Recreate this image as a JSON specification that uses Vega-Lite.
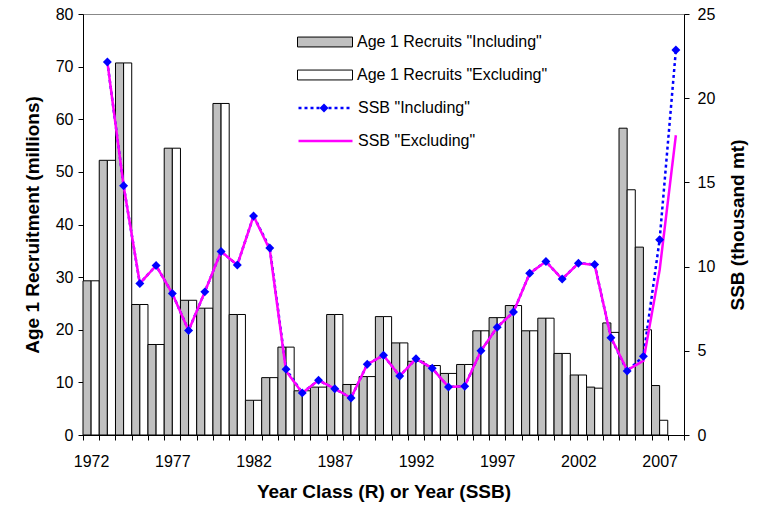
{
  "$schema": "https://vega.github.io/schema/vega-lite/v6.json",
  "width": 601,
  "height": 421,
  "autosize": {"type": "none"},
  "padding": {"left": 83, "top": 14, "right": 73, "bottom": 73},
  "background": "white",
  "config": {
    "font": "Liberation Sans",
    "view": {"stroke": "#888888", "strokeWidth": 1},
    "axis": {
      "grid": false, "domainColor": "#000000", "tickColor": "#000000",
      "labelColor": "#000000", "titleColor": "#000000",
      "labelFontSize": 16, "titleFontSize": 19, "titleFontWeight": "bold",
      "tickSize": 5, "domainWidth": 1, "tickWidth": 1
    },
    "legend": {"labelFontSize": 16, "labelColor": "#000000", "labelLimit": 400}
  },
  "datasets": {
    "rec": [
      {"year": 1972, "series": "Age 1 Recruits \"Including\"", "R": 29.3}, {"year": 1972, "series": "Age 1 Recruits \"Excluding\"", "R": 29.3},
      {"year": 1973, "series": "Age 1 Recruits \"Including\"", "R": 52.2}, {"year": 1973, "series": "Age 1 Recruits \"Excluding\"", "R": 52.2},
      {"year": 1974, "series": "Age 1 Recruits \"Including\"", "R": 70.7}, {"year": 1974, "series": "Age 1 Recruits \"Excluding\"", "R": 70.7},
      {"year": 1975, "series": "Age 1 Recruits \"Including\"", "R": 24.8}, {"year": 1975, "series": "Age 1 Recruits \"Excluding\"", "R": 24.8},
      {"year": 1976, "series": "Age 1 Recruits \"Including\"", "R": 17.2}, {"year": 1976, "series": "Age 1 Recruits \"Excluding\"", "R": 17.2},
      {"year": 1977, "series": "Age 1 Recruits \"Including\"", "R": 54.5}, {"year": 1977, "series": "Age 1 Recruits \"Excluding\"", "R": 54.5},
      {"year": 1978, "series": "Age 1 Recruits \"Including\"", "R": 25.6}, {"year": 1978, "series": "Age 1 Recruits \"Excluding\"", "R": 25.6},
      {"year": 1979, "series": "Age 1 Recruits \"Including\"", "R": 24.1}, {"year": 1979, "series": "Age 1 Recruits \"Excluding\"", "R": 24.1},
      {"year": 1980, "series": "Age 1 Recruits \"Including\"", "R": 63.0}, {"year": 1980, "series": "Age 1 Recruits \"Excluding\"", "R": 63.0},
      {"year": 1981, "series": "Age 1 Recruits \"Including\"", "R": 22.9}, {"year": 1981, "series": "Age 1 Recruits \"Excluding\"", "R": 22.9},
      {"year": 1982, "series": "Age 1 Recruits \"Including\"", "R": 6.6}, {"year": 1982, "series": "Age 1 Recruits \"Excluding\"", "R": 6.6},
      {"year": 1983, "series": "Age 1 Recruits \"Including\"", "R": 10.9}, {"year": 1983, "series": "Age 1 Recruits \"Excluding\"", "R": 10.9},
      {"year": 1984, "series": "Age 1 Recruits \"Including\"", "R": 16.7}, {"year": 1984, "series": "Age 1 Recruits \"Excluding\"", "R": 16.7},
      {"year": 1985, "series": "Age 1 Recruits \"Including\"", "R": 8.4}, {"year": 1985, "series": "Age 1 Recruits \"Excluding\"", "R": 8.4},
      {"year": 1986, "series": "Age 1 Recruits \"Including\"", "R": 9.1}, {"year": 1986, "series": "Age 1 Recruits \"Excluding\"", "R": 9.1},
      {"year": 1987, "series": "Age 1 Recruits \"Including\"", "R": 22.9}, {"year": 1987, "series": "Age 1 Recruits \"Excluding\"", "R": 22.9},
      {"year": 1988, "series": "Age 1 Recruits \"Including\"", "R": 9.6}, {"year": 1988, "series": "Age 1 Recruits \"Excluding\"", "R": 9.6},
      {"year": 1989, "series": "Age 1 Recruits \"Including\"", "R": 11.1}, {"year": 1989, "series": "Age 1 Recruits \"Excluding\"", "R": 11.1},
      {"year": 1990, "series": "Age 1 Recruits \"Including\"", "R": 22.5}, {"year": 1990, "series": "Age 1 Recruits \"Excluding\"", "R": 22.5},
      {"year": 1991, "series": "Age 1 Recruits \"Including\"", "R": 17.5}, {"year": 1991, "series": "Age 1 Recruits \"Excluding\"", "R": 17.5},
      {"year": 1992, "series": "Age 1 Recruits \"Including\"", "R": 14.0}, {"year": 1992, "series": "Age 1 Recruits \"Excluding\"", "R": 14.0},
      {"year": 1993, "series": "Age 1 Recruits \"Including\"", "R": 13.2}, {"year": 1993, "series": "Age 1 Recruits \"Excluding\"", "R": 13.2},
      {"year": 1994, "series": "Age 1 Recruits \"Including\"", "R": 11.7}, {"year": 1994, "series": "Age 1 Recruits \"Excluding\"", "R": 11.7},
      {"year": 1995, "series": "Age 1 Recruits \"Including\"", "R": 13.4}, {"year": 1995, "series": "Age 1 Recruits \"Excluding\"", "R": 13.4},
      {"year": 1996, "series": "Age 1 Recruits \"Including\"", "R": 19.8}, {"year": 1996, "series": "Age 1 Recruits \"Excluding\"", "R": 19.8},
      {"year": 1997, "series": "Age 1 Recruits \"Including\"", "R": 22.3}, {"year": 1997, "series": "Age 1 Recruits \"Excluding\"", "R": 22.3},
      {"year": 1998, "series": "Age 1 Recruits \"Including\"", "R": 24.6}, {"year": 1998, "series": "Age 1 Recruits \"Excluding\"", "R": 24.6},
      {"year": 1999, "series": "Age 1 Recruits \"Including\"", "R": 19.8}, {"year": 1999, "series": "Age 1 Recruits \"Excluding\"", "R": 19.8},
      {"year": 2000, "series": "Age 1 Recruits \"Including\"", "R": 22.2}, {"year": 2000, "series": "Age 1 Recruits \"Excluding\"", "R": 22.2},
      {"year": 2001, "series": "Age 1 Recruits \"Including\"", "R": 15.5}, {"year": 2001, "series": "Age 1 Recruits \"Excluding\"", "R": 15.5},
      {"year": 2002, "series": "Age 1 Recruits \"Including\"", "R": 11.4}, {"year": 2002, "series": "Age 1 Recruits \"Excluding\"", "R": 11.4},
      {"year": 2003, "series": "Age 1 Recruits \"Including\"", "R": 9.1}, {"year": 2003, "series": "Age 1 Recruits \"Excluding\"", "R": 8.9},
      {"year": 2004, "series": "Age 1 Recruits \"Including\"", "R": 21.3}, {"year": 2004, "series": "Age 1 Recruits \"Excluding\"", "R": 19.5},
      {"year": 2005, "series": "Age 1 Recruits \"Including\"", "R": 58.3}, {"year": 2005, "series": "Age 1 Recruits \"Excluding\"", "R": 46.6},
      {"year": 2006, "series": "Age 1 Recruits \"Including\"", "R": 35.7}, {"year": 2006, "series": "Age 1 Recruits \"Excluding\"", "R": 20.0},
      {"year": 2007, "series": "Age 1 Recruits \"Including\"", "R": 9.4}, {"year": 2007, "series": "Age 1 Recruits \"Excluding\"", "R": 2.8}
    ],
    "ssb": [
      {"year": 1973, "series": "SSB \"Including\"", "SSB": 22.15}, {"year": 1973, "series": "SSB \"Excluding\"", "SSB": 22.15},
      {"year": 1974, "series": "SSB \"Including\"", "SSB": 14.8}, {"year": 1974, "series": "SSB \"Excluding\"", "SSB": 14.8},
      {"year": 1975, "series": "SSB \"Including\"", "SSB": 9.0}, {"year": 1975, "series": "SSB \"Excluding\"", "SSB": 9.0},
      {"year": 1976, "series": "SSB \"Including\"", "SSB": 10.06}, {"year": 1976, "series": "SSB \"Excluding\"", "SSB": 10.06},
      {"year": 1977, "series": "SSB \"Including\"", "SSB": 8.4}, {"year": 1977, "series": "SSB \"Excluding\"", "SSB": 8.4},
      {"year": 1978, "series": "SSB \"Including\"", "SSB": 6.2}, {"year": 1978, "series": "SSB \"Excluding\"", "SSB": 6.2},
      {"year": 1979, "series": "SSB \"Including\"", "SSB": 8.5}, {"year": 1979, "series": "SSB \"Excluding\"", "SSB": 8.5},
      {"year": 1980, "series": "SSB \"Including\"", "SSB": 10.9}, {"year": 1980, "series": "SSB \"Excluding\"", "SSB": 10.9},
      {"year": 1981, "series": "SSB \"Including\"", "SSB": 10.1}, {"year": 1981, "series": "SSB \"Excluding\"", "SSB": 10.1},
      {"year": 1982, "series": "SSB \"Including\"", "SSB": 13.0}, {"year": 1982, "series": "SSB \"Excluding\"", "SSB": 13.0},
      {"year": 1983, "series": "SSB \"Including\"", "SSB": 11.1}, {"year": 1983, "series": "SSB \"Excluding\"", "SSB": 11.0},
      {"year": 1984, "series": "SSB \"Including\"", "SSB": 3.9}, {"year": 1984, "series": "SSB \"Excluding\"", "SSB": 3.8},
      {"year": 1985, "series": "SSB \"Including\"", "SSB": 2.5}, {"year": 1985, "series": "SSB \"Excluding\"", "SSB": 2.5},
      {"year": 1986, "series": "SSB \"Including\"", "SSB": 3.25}, {"year": 1986, "series": "SSB \"Excluding\"", "SSB": 3.25},
      {"year": 1987, "series": "SSB \"Including\"", "SSB": 2.75}, {"year": 1987, "series": "SSB \"Excluding\"", "SSB": 2.75},
      {"year": 1988, "series": "SSB \"Including\"", "SSB": 2.2}, {"year": 1988, "series": "SSB \"Excluding\"", "SSB": 2.2},
      {"year": 1989, "series": "SSB \"Including\"", "SSB": 4.2}, {"year": 1989, "series": "SSB \"Excluding\"", "SSB": 4.2},
      {"year": 1990, "series": "SSB \"Including\"", "SSB": 4.73}, {"year": 1990, "series": "SSB \"Excluding\"", "SSB": 4.73},
      {"year": 1991, "series": "SSB \"Including\"", "SSB": 3.5}, {"year": 1991, "series": "SSB \"Excluding\"", "SSB": 3.5},
      {"year": 1992, "series": "SSB \"Including\"", "SSB": 4.53}, {"year": 1992, "series": "SSB \"Excluding\"", "SSB": 4.53},
      {"year": 1993, "series": "SSB \"Including\"", "SSB": 3.96}, {"year": 1993, "series": "SSB \"Excluding\"", "SSB": 3.96},
      {"year": 1994, "series": "SSB \"Including\"", "SSB": 2.85}, {"year": 1994, "series": "SSB \"Excluding\"", "SSB": 2.85},
      {"year": 1995, "series": "SSB \"Including\"", "SSB": 2.9}, {"year": 1995, "series": "SSB \"Excluding\"", "SSB": 2.9},
      {"year": 1996, "series": "SSB \"Including\"", "SSB": 5.0}, {"year": 1996, "series": "SSB \"Excluding\"", "SSB": 5.0},
      {"year": 1997, "series": "SSB \"Including\"", "SSB": 6.4}, {"year": 1997, "series": "SSB \"Excluding\"", "SSB": 6.4},
      {"year": 1998, "series": "SSB \"Including\"", "SSB": 7.3}, {"year": 1998, "series": "SSB \"Excluding\"", "SSB": 7.3},
      {"year": 1999, "series": "SSB \"Including\"", "SSB": 9.6}, {"year": 1999, "series": "SSB \"Excluding\"", "SSB": 9.6},
      {"year": 2000, "series": "SSB \"Including\"", "SSB": 10.3}, {"year": 2000, "series": "SSB \"Excluding\"", "SSB": 10.3},
      {"year": 2001, "series": "SSB \"Including\"", "SSB": 9.26}, {"year": 2001, "series": "SSB \"Excluding\"", "SSB": 9.26},
      {"year": 2002, "series": "SSB \"Including\"", "SSB": 10.2}, {"year": 2002, "series": "SSB \"Excluding\"", "SSB": 10.2},
      {"year": 2003, "series": "SSB \"Including\"", "SSB": 10.13}, {"year": 2003, "series": "SSB \"Excluding\"", "SSB": 10.1},
      {"year": 2004, "series": "SSB \"Including\"", "SSB": 5.78}, {"year": 2004, "series": "SSB \"Excluding\"", "SSB": 5.8},
      {"year": 2005, "series": "SSB \"Including\"", "SSB": 3.8}, {"year": 2005, "series": "SSB \"Excluding\"", "SSB": 3.85},
      {"year": 2006, "series": "SSB \"Including\"", "SSB": 4.67}, {"year": 2006, "series": "SSB \"Excluding\"", "SSB": 4.4},
      {"year": 2007, "series": "SSB \"Including\"", "SSB": 11.6}, {"year": 2007, "series": "SSB \"Excluding\"", "SSB": 9.8},
      {"year": 2008, "series": "SSB \"Including\"", "SSB": 22.86}, {"year": 2008, "series": "SSB \"Excluding\"", "SSB": 17.8}
    ]
  },
  "layer": [
    {
      "data": {"name": "rec"},
      "mark": {"type": "bar", "stroke": "#000000", "strokeWidth": 1},
      "encoding": {
        "x": {
          "field": "year", "type": "ordinal", "title": "Year Class (R) or Year (SSB)",
          "scale": {"paddingInner": 0, "paddingOuter": 0},
          "axis": {
            "title": "Year Class (R) or Year (SSB)",
            "tickBand": "extent", "labelAngle": 0, "labelPadding": 13, "titlePadding": 13,
            "labelExpr": "(toNumber(datum.value) - 1972) % 5 == 0 ? datum.label : ''"
          }
        },
        "xOffset": {
          "field": "series",
          "scale": {"domain": ["Age 1 Recruits \"Including\"", "Age 1 Recruits \"Excluding\""], "paddingInner": 0, "paddingOuter": 0}
        },
        "y": {
          "field": "R", "type": "quantitative",
          "scale": {"domain": [0, 80]},
          "axis": {"title": "Age 1 Recruitment (millions)", "values": [0, 10, 20, 30, 40, 50, 60, 70, 80], "labelPadding": 5, "titlePadding": 13}
        },
        "fill": {
          "field": "series", "type": "nominal",
          "scale": {"domain": ["Age 1 Recruits \"Including\"", "Age 1 Recruits \"Excluding\""], "range": ["#c0c0c0", "#ffffff"]},
          "legend": {
            "orient": "none", "legendX": 214, "legendY": 20, "title": null,
            "symbolType": "M-1,-0.18H1V0.18H-1Z", "symbolSize": 3025,
            "symbolStrokeColor": "#000000", "symbolStrokeWidth": 1,
            "clipHeight": 16, "rowPadding": 17, "labelOffset": 4
          }
        }
      }
    },
    {
      "data": {"name": "ssb"},
      "layer": [
        {
          "transform": [{"filter": "datum.series == 'SSB \"Including\"'"}],
          "mark": {"type": "line", "strokeWidth": 2.5, "strokeCap": "butt"},
          "encoding": {
            "x": {"field": "year", "type": "ordinal", "title": "Year Class (R) or Year (SSB)"},
            "y": {
              "field": "SSB", "type": "quantitative", "title": "SSB (thousand mt)",
              "scale": {"domain": [0, 25], "nice": false},
              "axis": {"orient": "right", "title": "SSB (thousand mt)", "values": [0, 5, 10, 15, 20, 25], "labelPadding": 8, "titlePadding": 33, "titleAngle": 270}
            },
            "stroke": {
              "field": "series", "type": "nominal",
              "scale": {"domain": ["SSB \"Including\"", "SSB \"Excluding\""], "range": ["#0000ff", "#ff00ff"]},
              "legend": {
                "orient": "none", "legendX": 214, "legendY": 86, "title": null,
                "symbolType": "stroke", "symbolSize": 2916, "symbolStrokeWidth": 2.5,
                "clipHeight": 16, "rowPadding": 17, "labelOffset": 4
              }
            },
            "strokeDash": {
              "field": "series", "type": "nominal",
              "scale": {"domain": ["SSB \"Including\"", "SSB \"Excluding\""], "range": [[3, 3], [1, 0]]},
              "legend": {
                "orient": "none", "legendX": 214, "legendY": 86, "title": null,
                "symbolType": "stroke", "symbolSize": 2916, "symbolStrokeWidth": 2.5,
                "clipHeight": 16, "rowPadding": 17, "labelOffset": 4
              }
            }
          }
        },
        {
          "transform": [{"filter": "datum.series == 'SSB \"Excluding\"'"}],
          "mark": {"type": "line", "strokeWidth": 2.5},
          "encoding": {
            "x": {"field": "year", "type": "ordinal", "title": "Year Class (R) or Year (SSB)"},
            "y": {"field": "SSB", "type": "quantitative", "title": "SSB (thousand mt)", "scale": {"domain": [0, 25], "nice": false}},
            "stroke": {"field": "series", "type": "nominal"},
            "strokeDash": {"field": "series", "type": "nominal"}
          }
        },
        {
          "transform": [{"filter": "datum.series == 'SSB \"Including\"'"}],
          "mark": {"type": "point", "filled": true, "color": "#0000ff", "size": 80, "opacity": 1},
          "encoding": {
            "x": {"field": "year", "type": "ordinal", "title": "Year Class (R) or Year (SSB)"},
            "y": {"field": "SSB", "type": "quantitative", "title": "SSB (thousand mt)", "scale": {"domain": [0, 25], "nice": false}},
            "shape": {
              "field": "series", "type": "nominal",
              "scale": {"domain": ["SSB \"Including\""], "range": ["diamond"]},
              "legend": {
                "orient": "none", "legendX": 233, "legendY": 86, "title": null,
                "symbolSize": 80, "symbolFillColor": "#0000ff", "symbolStrokeColor": "#0000ff",
                "clipHeight": 16, "labelExpr": "''"
              }
            }
          }
        }
      ]
    }
  ],
  "resolve": {"scale": {"y": "independent"}}
}
